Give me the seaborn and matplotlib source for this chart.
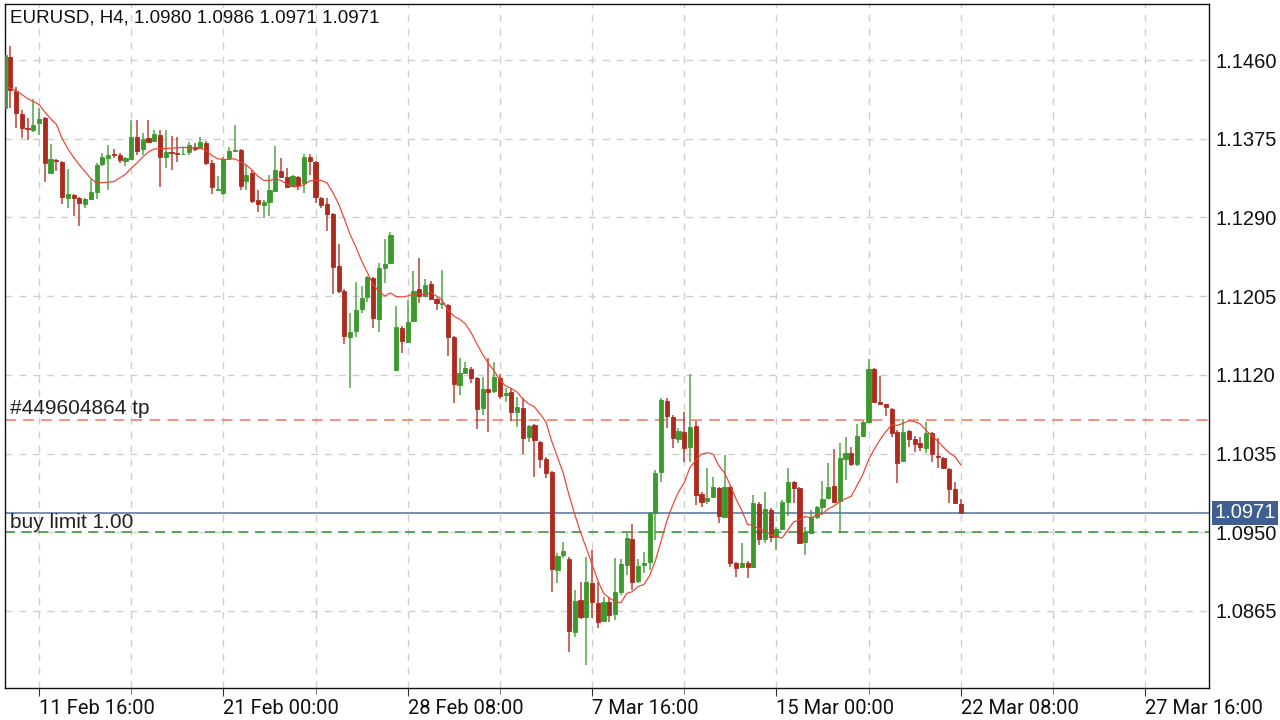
import numpy as np
import pandas as pd
import matplotlib
matplotlib.use("Agg")
import matplotlib.pyplot as plt
import seaborn as sns

# ---------------- data (EURUSD H4) ----------------
title_text = "EURUSD, H4, 1.0980 1.0986 1.0971 1.0971"

opens = [
    1.1408, 1.1463, 1.1427, 1.1402, 1.1387, 1.1384, 1.1392, 1.1397, 1.1338, 1.1352,
    1.1350, 1.1311, 1.1314, 1.1311, 1.1304, 1.1310, 1.1318, 1.1348, 1.1354, 1.1358,
    1.1357, 1.1351, 1.1353, 1.1377, 1.1364, 1.1376, 1.1373, 1.1379, 1.1355, 1.1361,
    1.1360, 1.1358, 1.1361, 1.1366, 1.1365, 1.1370, 1.1349, 1.1320, 1.1316, 1.1354,
    1.1362, 1.1363, 1.1329, 1.1338, 1.1309, 1.1303, 1.1307, 1.1319, 1.1340, 1.1334,
    1.1324, 1.1334, 1.1327, 1.1355, 1.1350, 1.1311, 1.1304, 1.1294, 1.1238, 1.1211,
    1.1161, 1.1167, 1.1191, 1.1204, 1.1225, 1.1180, 1.1235, 1.1241, 1.1125, 1.1171,
    1.1155, 1.1178, 1.1213, 1.1205, 1.1218, 1.1202, 1.1196, 1.1195, 1.1161, 1.1109,
    1.1122, 1.1126, 1.1117, 1.1084, 1.1105, 1.1103, 1.1117, 1.1098, 1.1101, 1.1080,
    1.1084, 1.1053, 1.1066, 1.1048, 1.1029, 1.1015, 1.0909, 1.0925, 1.0921, 1.0842,
    1.0877, 1.0859, 1.0895, 1.0874, 1.0854, 1.0875, 1.0862, 1.0886, 1.0915, 1.0943,
    1.0897, 1.0915, 1.0918, 1.0971, 1.1015, 1.1092, 1.1074, 1.1051, 1.1058, 1.1042,
    1.1065, 1.0991, 1.0984, 1.0988, 1.0998, 1.0967, 1.0999, 1.0917, 1.0912, 1.0917,
    1.0912, 1.0981, 1.0943, 1.0974, 1.0945, 1.0953, 1.0983, 1.1004, 1.0998, 1.0939,
    1.0949, 1.0966, 1.0977, 1.0987, 1.1000, 1.0984, 1.1029, 1.1036, 1.1024, 1.1054,
    1.1069, 1.1126, 1.1091, 1.1088, 1.1083, 1.1058, 1.1027, 1.1059, 1.1051, 1.1046,
    1.1041, 1.1057, 1.1032, 1.1030, 1.1018, 1.0997, 1.0980]

highs = [
    1.1468, 1.1475, 1.1431, 1.1406, 1.1397, 1.1418, 1.1408, 1.1398, 1.1369, 1.1353,
    1.1351, 1.1342, 1.1315, 1.1312, 1.1311, 1.1331, 1.1349, 1.1360, 1.1368, 1.1364,
    1.1360, 1.1355, 1.1395, 1.1395, 1.1381, 1.1395, 1.1384, 1.1384, 1.1384, 1.1378,
    1.1377, 1.1366, 1.1371, 1.1370, 1.1377, 1.1373, 1.1352, 1.1335, 1.1355, 1.1366,
    1.1390, 1.1364, 1.1347, 1.1341, 1.1320, 1.1309, 1.1336, 1.1367, 1.1354, 1.1343,
    1.1336, 1.1335, 1.1358, 1.1358, 1.1351, 1.1312, 1.1311, 1.1295, 1.1261, 1.1213,
    1.1187, 1.1220, 1.1216, 1.1227, 1.1226, 1.1241, 1.1267, 1.1274, 1.1194, 1.1173,
    1.1201, 1.1232, 1.1246, 1.1223, 1.1221, 1.1203, 1.1233, 1.1196, 1.1162, 1.1138,
    1.1134, 1.1128, 1.1118, 1.1118, 1.1138, 1.1134, 1.1121, 1.1106, 1.1106, 1.1096,
    1.1095, 1.1066, 1.1067, 1.1049, 1.1031, 1.1016, 1.0928, 1.0939, 1.0923, 1.0888,
    1.0896, 1.0923, 1.0931, 1.0896, 1.0880, 1.0879, 1.0922, 1.0921, 1.0949, 1.0959,
    1.0921, 1.0929, 1.0972, 1.1017, 1.1095, 1.1095, 1.1077, 1.1063, 1.1080, 1.1121,
    1.1070, 1.0993, 1.1019, 1.1010, 1.0999, 1.1033, 1.1000, 1.0918, 1.0938, 1.0919,
    1.0990, 1.0983, 1.0993, 1.0976, 1.0956, 1.0985, 1.1019, 1.1005, 1.0999, 1.0956,
    1.0974, 1.0978, 1.1005, 1.1025, 1.1040, 1.1046, 1.1053, 1.1042, 1.1067, 1.1070,
    1.1137, 1.1127, 1.1119, 1.1089, 1.1084, 1.1060, 1.1072, 1.1060, 1.1054, 1.1053,
    1.1069, 1.1058, 1.1052, 1.1031, 1.1019, 1.1004, 1.0986]

lows = [
    1.1406, 1.1408, 1.1387, 1.1376, 1.1374, 1.1382, 1.1379, 1.1328, 1.1337, 1.1340,
    1.1304, 1.1300, 1.1292, 1.1281, 1.1300, 1.1309, 1.1310, 1.1346, 1.1320, 1.1354,
    1.1349, 1.1346, 1.1352, 1.1357, 1.1357, 1.1370, 1.1371, 1.1323, 1.1343, 1.1341,
    1.1350, 1.1357, 1.1357, 1.1362, 1.1364, 1.1347, 1.1315, 1.1320, 1.1314, 1.1352,
    1.1361, 1.1320, 1.1320, 1.1306, 1.1296, 1.1289, 1.1292, 1.1317, 1.1333, 1.1322,
    1.1323, 1.1320, 1.1316, 1.1336, 1.1306, 1.1300, 1.1275, 1.1207, 1.1208, 1.1153,
    1.1106, 1.1161, 1.1187, 1.1199, 1.1171, 1.1166, 1.1219, 1.1240, 1.1124, 1.1144,
    1.1154, 1.1177, 1.1198, 1.1204, 1.1201, 1.1190, 1.1191, 1.1140, 1.1090, 1.1098,
    1.1121, 1.1111, 1.1061, 1.1077, 1.1058, 1.1100, 1.1094, 1.1091, 1.1070, 1.1064,
    1.1034, 1.1047, 1.1010, 1.1019, 1.1009, 1.0885, 1.0895, 1.0922, 1.0821, 1.0837,
    1.0856, 1.0807, 1.0857, 1.0847, 1.0853, 1.0853, 1.0855, 1.0882, 1.0904, 1.0888,
    1.0895, 1.0906, 1.0909, 1.0942, 1.1004, 1.1063, 1.1041, 1.1046, 1.1026, 1.1026,
    1.0979, 1.0977, 1.0980, 1.0987, 1.0960, 1.0966, 1.0912, 1.0902, 1.0911, 1.0901,
    1.0911, 1.0936, 1.0938, 1.0939, 1.0931, 1.0952, 1.0968, 1.0982, 1.0937, 1.0925,
    1.0948, 1.0964, 1.0969, 1.0986, 1.0982, 1.0949, 1.1006, 1.1022, 1.1022, 1.1053,
    1.1068, 1.1090, 1.1087, 1.1076, 1.1053, 1.1003, 1.1026, 1.1042, 1.1037, 1.1038,
    1.1036, 1.1026, 1.1019, 1.1018, 1.0982, 1.0980, 1.0971]

closes = [
    1.1465, 1.1428, 1.1403, 1.1387, 1.1385, 1.1390, 1.1396, 1.1349, 1.1353, 1.1351,
    1.1312, 1.1315, 1.1311, 1.1306, 1.1310, 1.1317, 1.1347, 1.1355, 1.1357, 1.1357,
    1.1352, 1.1354, 1.1377, 1.1362, 1.1375, 1.1371, 1.1380, 1.1355, 1.1361, 1.1360,
    1.1358, 1.1359, 1.1368, 1.1364, 1.1371, 1.1349, 1.1323, 1.1321, 1.1353, 1.1362,
    1.1363, 1.1324, 1.1336, 1.1308, 1.1304, 1.1307, 1.1320, 1.1341, 1.1334, 1.1323,
    1.1335, 1.1325, 1.1355, 1.1351, 1.1312, 1.1303, 1.1294, 1.1237, 1.1211, 1.1162,
    1.1166, 1.1190, 1.1203, 1.1226, 1.1181, 1.1235, 1.1240, 1.1271, 1.1172, 1.1157,
    1.1177, 1.1211, 1.1205, 1.1217, 1.1202, 1.1198, 1.1198, 1.1161, 1.1110, 1.1122,
    1.1127, 1.1117, 1.1083, 1.1105, 1.1102, 1.1118, 1.1097, 1.1100, 1.1080, 1.1085,
    1.1052, 1.1065, 1.1050, 1.1029, 1.1014, 1.0910, 1.0924, 1.0930, 1.0843, 1.0876,
    1.0858, 1.0896, 1.0875, 1.0853, 1.0875, 1.0861, 1.0885, 1.0916, 1.0944, 1.0896,
    1.0914, 1.0917, 1.0971, 1.1014, 1.1093, 1.1076, 1.1052, 1.1059, 1.1041, 1.1064,
    1.0990, 1.0983, 1.0987, 1.0999, 1.0968, 1.0999, 1.0917, 1.0911, 1.0917, 1.0912,
    1.0982, 1.0943, 1.0975, 1.0945, 1.0953, 1.0983, 1.1004, 1.0998, 1.0938, 1.0950,
    1.0966, 1.0977, 1.0986, 1.0999, 1.0983, 1.1030, 1.1036, 1.1024, 1.1054, 1.1069,
    1.1126, 1.1091, 1.1088, 1.1085, 1.1057, 1.1025, 1.1058, 1.1051, 1.1045, 1.1042,
    1.1057, 1.1034, 1.1031, 1.1019, 1.0997, 1.0982, 1.0971]

# closes of the 9 bars before the visible window (needed for the 10-period MA)
prior_closes = [1.1438, 1.1433, 1.1425, 1.1430, 1.1422, 1.1428, 1.1432, 1.1423, 1.1411]
ma_period = 10

price_ticks = [1.0865, 1.0950, 1.1035, 1.1120, 1.1205, 1.1290, 1.1375, 1.1460]
time_labels = ["11 Feb 16:00", "21 Feb 00:00", "28 Feb 08:00", "7 Mar 16:00",
               "15 Mar 00:00", "22 Mar 08:00", "27 Mar 16:00"]
time_label_bars = [6, 38, 70, 102, 134, 166, 198]
minor_bars = [22, 54, 86, 118, 150, 182]

current_price = 1.0971
tp_price = 1.1071
tp_label = "#449604864 tp"
buy_limit_price = 1.0950
buy_limit_label = "buy limit 1.00"

# ---------------- style ----------------
sns.set_theme(style="white")
plt.rcParams["font.family"] = ["Liberation Sans", "DejaVu Sans"]

UP = "#3a9a2c"
DOWN = "#ad2a1e"
GRID = "#cfcfcf"

df = pd.DataFrame({"open": opens, "high": highs, "low": lows, "close": closes})
df["bar"] = np.arange(len(df))
all_close = pd.Series(prior_closes + closes)
df["ma"] = all_close.rolling(ma_period).mean().iloc[len(prior_closes):].to_numpy()

fig = plt.figure(figsize=(12.8, 7.2), dpi=100)
ax = fig.add_axes([5 / 1280, 32 / 720, 1204 / 1280, 684 / 720])
ax.set_facecolor("white")

up = df["close"] >= df["open"]
colors = np.where(up, UP, DOWN)

# wicks
ax.vlines(df["bar"], df["low"], df["high"], colors=colors, linewidth=1.3, alpha=0.75, zorder=3)
# bodies
ax.bar(df["bar"], df["close"] - df["open"], bottom=df["open"], width=0.72,
       color=colors, edgecolor=colors, linewidth=0.6, zorder=4)

# moving average
sns.lineplot(data=df, x="bar", y="ma", ax=ax, color="#f0402f", linewidth=0.85,
             zorder=5, legend=False)

# order / price lines
ax.axhline(tp_price, color="#f08a70", linewidth=1.3, dashes=(6, 4), zorder=2)
ax.axhline(buy_limit_price, color="#3c9a3c", linewidth=1.2, dashes=(6, 4), zorder=2)
ax.axhline(current_price, color="#7290bb", linewidth=1.4, zorder=2)

xtrans = ax.get_yaxis_transform()
ax.annotate(tp_label, xy=(0.004, tp_price), xycoords=xtrans, xytext=(0, 1.5),
            textcoords="offset points", ha="left", va="bottom", fontsize=15,
            color="#222222", zorder=6)
ax.annotate(buy_limit_label, xy=(0.004, buy_limit_price), xycoords=xtrans, xytext=(0, 0.5),
            textcoords="offset points", ha="left", va="bottom", fontsize=15,
            color="#222222", zorder=6)

# current price tag on the right axis
ax.annotate(f"{current_price:.4f}", xy=(1.0, current_price), xycoords=xtrans,
            xytext=(4, 0), textcoords="offset points", ha="left", va="center",
            fontsize=14.5, color="white", annotation_clip=False, zorder=10,
            bbox=dict(boxstyle="square,pad=0.12", fc="#3e5f90", ec="none"))

# axes limits
ax.set_xlim(0.09, 209.1)
ax.set_ylim(1.07818, 1.15205)

# y axis on the right
ax.yaxis.tick_right()
ax.set_yticks(price_ticks)
ax.set_yticklabels([f"{p:.4f}" for p in price_ticks])
ax.tick_params(axis="y", length=0, pad=5, labelsize=14.5, labelcolor="#111111")

# x axis
ax.set_xticks(time_label_bars)
ax.set_xticklabels(time_labels, fontfamily=["Roboto", "DejaVu Sans"], fontsize=14.5)
for lbl in ax.get_xticklabels():
    lbl.set_horizontalalignment("left")
ax.set_xticks(minor_bars, minor=True)
ax.tick_params(axis="x", which="major", length=6, width=0.8, color="#333333",
               direction="out", pad=2, labelcolor="#111111", bottom=True)
ax.tick_params(axis="x", which="minor", length=4, width=0.6, color="#666666",
               direction="out", bottom=True)

# grid
for b in time_label_bars + minor_bars:
    ax.axvline(b, color=GRID, linewidth=1.0, dashes=(5, 5), zorder=1)
for p in price_ticks:
    ax.axhline(p, color=GRID, linewidth=1.0, dashes=(5, 5), zorder=1)

ax.set_xlabel("")
ax.set_ylabel("")
for s in ax.spines.values():
    s.set_visible(True)
    s.set_color("#111111")
    s.set_linewidth(1.0)

fig.text(10 / 1280, 1 - 18 / 720, title_text, ha="left", va="center",
         fontsize=13.5, color="#111111")

fig.savefig("out.png", dpi=100, facecolor="white")
